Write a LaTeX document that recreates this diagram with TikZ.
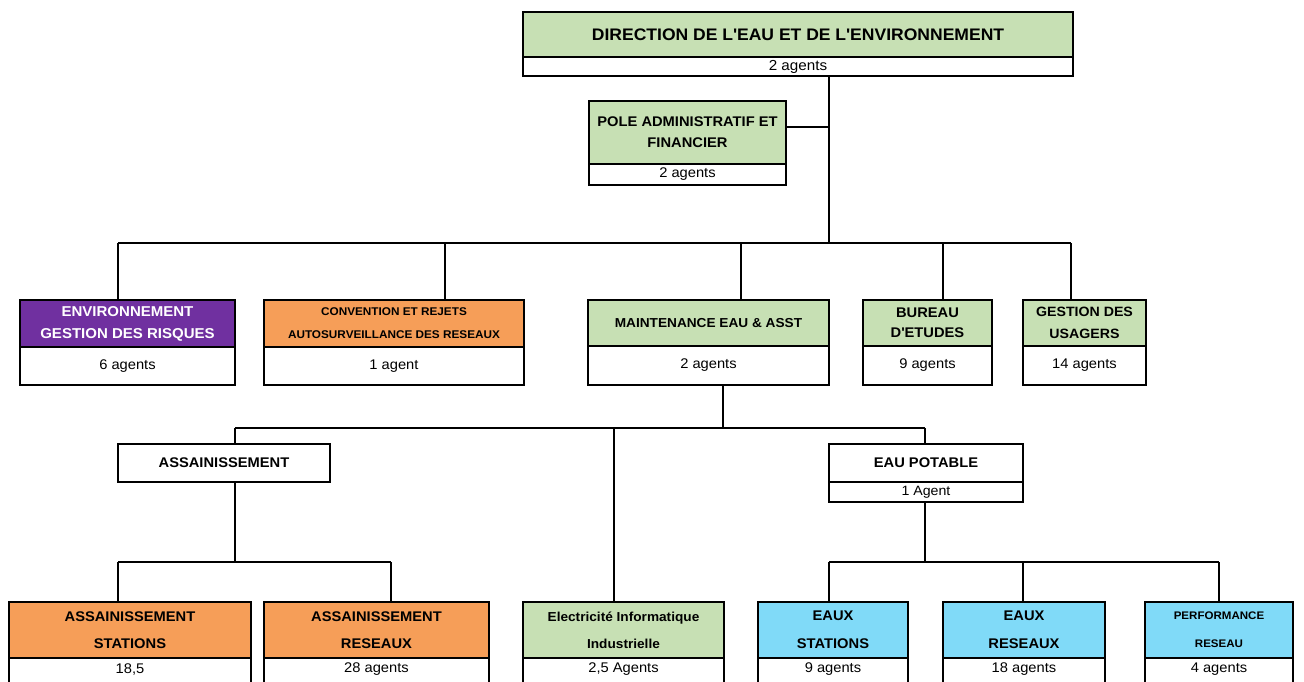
\documentclass[tikz,border=0pt]{standalone}
\usepackage{fontspec}
\setmainfont{Liberation Sans}[FakeStretch=1.05]
\usetikzlibrary{calc}
\definecolor{hgreen}{RGB}{199,224,180}
\definecolor{horange}{RGB}{246,158,88}
\definecolor{hpurple}{RGB}{112,48,160}
\definecolor{hcyan}{RGB}{128,218,248}
\tikzset{
  box/.style={draw=black, line width=1.3pt, inner sep=0pt, outer sep=0pt, anchor=north west, align=center},
  hdr/.style={box, font=\fontsize{14}{22}\selectfont\bfseries},
  sub/.style={box, fill=white, font=\fontsize{14}{17}\selectfont},
  lbl/.style={inner sep=0pt, font=\fontsize{14}{17}\selectfont},
  link/.style={draw=black, line width=1.2pt},
}
\begin{document}
\begin{tikzpicture}[x=1pt,y=-1pt]
\useasboundingbox (0,0) rectangle (1304,681);
\clip (0,0) rectangle (1304,681);
\fill[white] (0,0) rectangle (1304,681);

% top
\node[hdr, fill=hgreen, minimum width=550pt, minimum height=45pt, font=\fontsize{16.7}{20}\selectfont\bfseries] (dirh) at (523,12) {DIRECTION DE L\textquotesingle EAU ET DE L\textquotesingle ENVIRONNEMENT};
\node[sub, minimum width=550pt, minimum height=19pt, font=\fontsize{14.5}{17}\selectfont] (dirs) at (523,57) {2 agents};

\node[hdr, fill=hgreen, minimum width=197pt, minimum height=63pt, font=\fontsize{14}{21}\selectfont\bfseries] (poleh) at (589,101) {POLE ADMINISTRATIF ET\\FINANCIER};
\node[sub, minimum width=197pt, minimum height=21pt] (poles) at (589,164) {2 agents};

% row 2
\node[hdr, fill=hpurple, text=white, minimum width=215pt, minimum height=47pt, font=\fontsize{14.3}{22}\selectfont\bfseries] (envh) at (20,300) {ENVIRONNEMENT\\GESTION DES RISQUES};
\node[sub, minimum width=215pt, minimum height=38pt] (envs) at (20,347) {6 agents};

\node[hdr, fill=horange, minimum width=260pt, minimum height=47pt, font=\fontsize{11.2}{23}\selectfont\bfseries] (convh) at (264,300) {CONVENTION ET REJETS\\AUTOSURVEILLANCE DES RESEAUX};
\node[sub, minimum width=260pt, minimum height=38pt] (convs) at (264,347) {1 agent};

\node[hdr, fill=hgreen, minimum width=241pt, minimum height=46pt, font=\fontsize{13}{20}\selectfont\bfseries] (mainh) at (588,300) {MAINTENANCE EAU \& ASST};
\node[sub, minimum width=241pt, minimum height=39pt] (mains) at (588,346) {2 agents};

\node[hdr, fill=hgreen, minimum width=129pt, minimum height=46pt, font=\fontsize{14}{20}\selectfont\bfseries] (burh) at (863,300) {BUREAU\\D\textquotesingle ETUDES};
\node[sub, minimum width=129pt, minimum height=39pt] (burs) at (863,346) {9 agents};

\node[hdr, fill=hgreen, minimum width=123pt, minimum height=46pt, font=\fontsize{13.5}{22}\selectfont\bfseries] (gesh) at (1023,300) {GESTION DES\\USAGERS};
\node[sub, minimum width=123pt, minimum height=39pt] (gess) at (1023,346) {14 agents};

% row 3
\node[hdr, fill=white, minimum width=212pt, minimum height=38pt] (assh) at (118,444) {ASSAINISSEMENT};

\node[hdr, fill=white, minimum width=194pt, minimum height=38pt] (eauh) at (829,444) {EAU POTABLE};
\node[sub, minimum width=194pt, minimum height=20pt, font=\fontsize{13.5}{17}\selectfont] (eaus) at (829,482) {1 Agent};

% row 4
\node[hdr, fill=horange, minimum width=242pt, minimum height=56pt, font=\fontsize{14}{27}\selectfont\bfseries] (as1h) at (9,602) {ASSAINISSEMENT\\STATIONS};
\node[sub, minimum width=242pt, minimum height=42pt] (as1s) at (9,658) {};
\node[lbl] (as1t) at ($(as1s.north)+(0,11)$) {18,5};

\node[hdr, fill=horange, minimum width=225pt, minimum height=56pt, font=\fontsize{14}{27}\selectfont\bfseries] (as2h) at (264,602) {ASSAINISSEMENT\\RESEAUX};
\node[sub, minimum width=225pt, minimum height=42pt] (as2s) at (264,658) {};
\node[lbl] (as2t) at ($(as2s.north)+(0,11)$) {28 agents};

\node[hdr, fill=hgreen, minimum width=201pt, minimum height=56pt, font=\fontsize{13}{27}\selectfont\bfseries] (elh) at (523,602) {Electricité Informatique\\Industrielle};
\node[sub, minimum width=201pt, minimum height=42pt] (els) at (523,658) {};
\node[lbl] (elt) at ($(els.north)+(0,11)$) {2,5 Agents};

\node[hdr, fill=hcyan, minimum width=150pt, minimum height=56pt, font=\fontsize{14}{28}\selectfont\bfseries] (esh) at (758,602) {EAUX\\STATIONS};
\node[sub, minimum width=150pt, minimum height=42pt] (ess) at (758,658) {};
\node[lbl] (est) at ($(ess.north)+(0,11)$) {9 agents};

\node[hdr, fill=hcyan, minimum width=162pt, minimum height=56pt, font=\fontsize{14}{28}\selectfont\bfseries] (erh) at (943,602) {EAUX\\RESEAUX};
\node[sub, minimum width=162pt, minimum height=42pt] (ers) at (943,658) {};
\node[lbl] (ert) at ($(ers.north)+(0,11)$) {18 agents};

\node[hdr, fill=hcyan, minimum width=148pt, minimum height=56pt, font=\fontsize{11}{28}\selectfont\bfseries] (pfh) at (1145,602) {PERFORMANCE\\RESEAU};
\node[sub, minimum width=148pt, minimum height=42pt] (pfs) at (1145,658) {};
\node[lbl] (pft) at ($(pfs.north)+(0,11)$) {4 agents};

% connectors level 1
\coordinate (t0) at (829,243);
\coordinate (pj) at (829,127);
\coordinate (b1) at (118,243);
\coordinate (b2) at (445,243);
\coordinate (b3) at (741,243);
\coordinate (b4) at (943,243);
\coordinate (b5) at (1071,243);
\draw[link] (dirs.south -| t0) -- (t0);
\draw[link] (pj -| poleh.east) -- (pj);
\draw[link] (b1) -- (b5);
\draw[link] (b1) -- (b1 |- envh.north);
\draw[link] (b2) -- (b2 |- convh.north);
\draw[link] (b3) -- (b3 |- mainh.north);
\draw[link] (b4) -- (b4 |- burh.north);
\draw[link] (b5) -- (b5 |- gesh.north);

% level 2
\coordinate (m0) at (723,428);
\coordinate (m1) at (235,428);
\coordinate (m2) at (614,428);
\coordinate (m3) at (925,428);
\draw[link] (mains.south -| m0) -- (m0);
\draw[link] (m1) -- (m3);
\draw[link] (m1) -- (m1 |- assh.north);
\draw[link] (m2) -- (m2 |- elh.north);
\draw[link] (m3) -- (m3 |- eauh.north);

% level 3
\coordinate (a0) at (235,562);
\coordinate (a1) at (118,562);
\coordinate (a2) at (391,562);
\draw[link] (assh.south -| a0) -- (a0);
\draw[link] (a1) -- (a2);
\draw[link] (a1) -- (a1 |- as1h.north);
\draw[link] (a2) -- (a2 |- as2h.north);

\coordinate (e0) at (925,562);
\coordinate (e1) at (829,562);
\coordinate (e2) at (1023,562);
\coordinate (e3) at (1219,562);
\draw[link] (eaus.south -| e0) -- (e0);
\draw[link] (e1) -- (e3);
\draw[link] (e1) -- (e1 |- esh.north);
\draw[link] (e2) -- (e2 |- erh.north);
\draw[link] (e3) -- (e3 |- pfh.north);
\end{tikzpicture}
\end{document}
